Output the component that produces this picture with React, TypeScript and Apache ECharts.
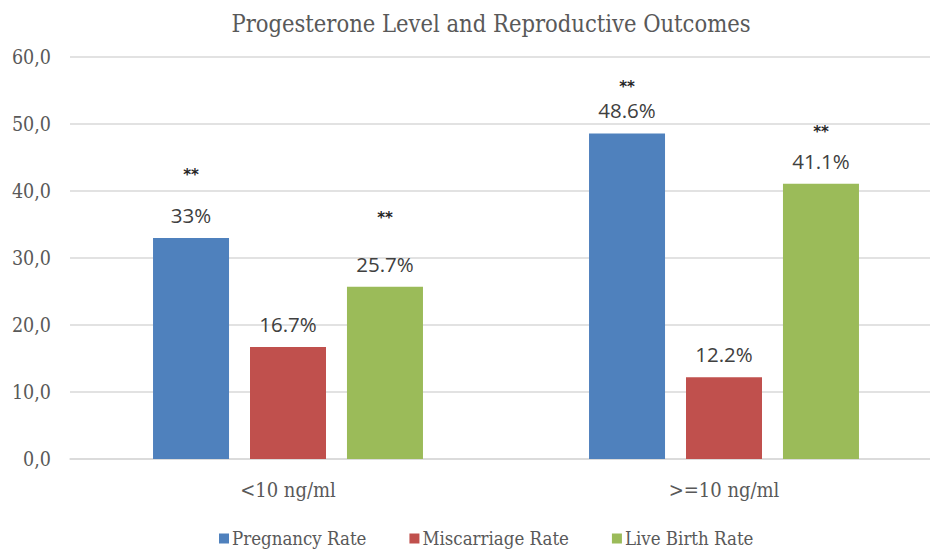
import React, { useEffect, useRef } from "react";
import * as echarts from "echarts";

const categories = ["<10 ng/ml", ">=10 ng/ml"];
const seriesNames = ["Pregnancy Rate", "Miscarriage Rate", "Live Birth Rate"];
const pregnancyRate = [33, 48.6];
const miscarriageRate = [16.7, 12.2];
const liveBirthRate = [25.7, 41.1];
const significant = [
  [true, true],
  [false, false],
  [true, true],
];
const yTicks = [0, 10, 20, 30, 40, 50, 60];

const colors = ["#4f81bd", "#c0504d", "#9bbb59"];
// vertical spacing (px) between the "**" mark and the value label, per series/category (style only)
const starGap = [
  [19, 2],
  [0, 0],
  [25, 8],
];

export default function App() {
  const ref = useRef<HTMLDivElement>(null);
  useEffect(() => {
    document.body.style.margin = "0";
    if (!ref.current) return;
    const chart = echarts.init(ref.current, undefined, { renderer: "svg" });
    const values = [pregnancyRate, miscarriageRate, liveBirthRate];
    const serif = "'DejaVu Serif Condensed', 'DejaVu Serif', serif";
    const series = values.map((vals, si) => ({
      name: seriesNames[si],
      type: "bar",
      barWidth: 76,
      barGap: "27.6%",
      itemStyle: { color: colors[si] },
      data: vals.map((v, ci) => ({
        value: v,
        label: {
          show: true,
          position: "top",
          distance: 10,
          formatter: significant[si][ci]
            ? `{s|**}\n{g|}\n{v|${v}%}`
            : `{v|${v}%}`,
          rich: {
            s: { fontFamily: "'DejaVu Sans', sans-serif", fontSize: 15, color: "#262626", fontWeight: "bold", lineHeight: 16 },
            g: { height: starGap[si][ci], lineHeight: starGap[si][ci] },
            v: { fontFamily: "'Open Sans', sans-serif", fontSize: 20.5, color: "#404040", lineHeight: 26 },
          },
        },
      })),
    }));
    chart.setOption({
      animation: false,
      backgroundColor: "#ffffff",
      title: {
        text: "Progesterone Level and Reproductive Outcomes",
        left: 486,
        textAlign: "center",
        top: 7,
        textStyle: { fontFamily: serif, fontSize: 23.5, fontWeight: "normal", color: "#595959" },
      },
      legend: {
        top: 524,
        left: 214,
        itemWidth: 10,
        itemHeight: 10,
        itemGap: 43,
        icon: "rect",
        textStyle: { fontFamily: serif, fontSize: 18.5, color: "#595959", padding: [0, 0, 0, -2] },
        data: seriesNames,
      },
      grid: { left: 70, width: 872, top: 57, bottom: 91, outerBoundsMode: "none" },
      xAxis: {
        type: "category",
        data: categories,
        axisTick: { show: false },
        axisLine: { show: true, lineStyle: { color: "#d9d9d9", width: 1.5 } },
        axisLabel: { fontFamily: serif, fontSize: 20, color: "#595959", margin: 21 },
      },
      yAxis: {
        type: "value",
        min: yTicks[0],
        max: yTicks[yTicks.length - 1],
        interval: 10,
        axisLine: { show: false },
        axisTick: { show: false },
        splitLine: { lineStyle: { color: "#d9d9d9", width: 1.5 } },
        axisLabel: {
          fontFamily: serif,
          fontSize: 19.5,
          color: "#595959",
          margin: 19,
          formatter: (v: number) => v.toFixed(1).replace(".", ","),
        },
      },
      series,
    });
    return () => chart.dispose();
  }, []);
  return <div ref={ref} style={{ width: 930, height: 550 }} />;
}
